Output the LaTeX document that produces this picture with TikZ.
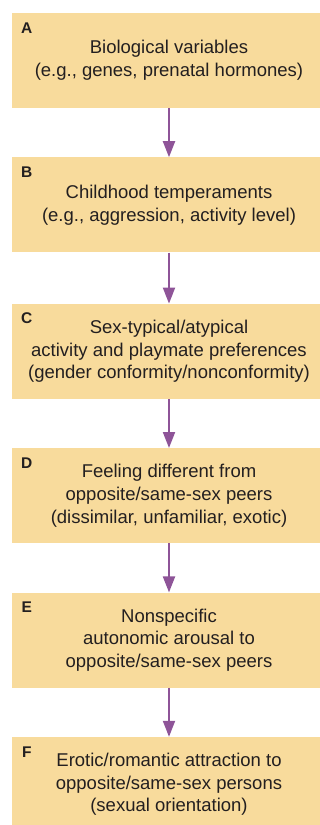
\documentclass[tikz,border=0pt]{standalone}
\usepackage{fontspec}
\setmainfont{Liberation Sans}
\usetikzlibrary{arrows.meta, positioning}
\definecolor{cpeach}{HTML}{F8DB9C}
\definecolor{cpurple}{HTML}{8E5498}
\definecolor{cink}{HTML}{231F20}
\tikzset{
  every picture/.style={font=\fontsize{18.5}{22.7}\selectfont},
  stage/.style={fill=cpeach, text=cink, minimum width=314pt, minimum height=95pt, align=center, inner sep=0pt},
  tag/.style={text=cink, inner sep=0pt, font=\fontsize{15.5}{18}\selectfont\bfseries},
  arrow/.style={-{Triangle[length=16pt, width=12pt]}, draw=cpurple, line width=2pt},
}

\begin{document}
\begin{tikzpicture}[x=1pt, y=-1pt, node distance=49pt]
  \clip (0,0) rectangle (320,825);
  % the six stages, top to bottom
  \node[stage] (A) at (169,60.5) {Biological variables\\(e.g., genes, prenatal hormones)};
  \node[stage, below=49pt of A] (B) {Childhood temperaments\\(e.g., aggression, activity level)};
  \node[stage, below=51pt of B] (C) {Sex-typical/atypical\\activity and playmate preferences\\(gender conformity/nonconformity)};
  \node[stage, below=of C] (D) {Feeling different from\\opposite/same-sex peers\\(dissimilar, unfamiliar, exotic)};
  \node[stage, below=of D] (E) {Nonspecific\\autonomic arousal to\\opposite/same-sex peers};
  \node[stage, below=of E] (F) {Erotic/romantic attraction to\\opposite/same-sex persons\\(sexual orientation)};
  % letters in the corners
  \foreach \s in {A,B,C,D,E,F}
    \node[tag] (tag\s) at ([shift={(15,15)}]\s.north west) {\s};
  % arrows
  \draw[arrow] (A) -- (B);
  \draw[arrow] (B) -- (C);
  \draw[arrow] (C) -- (D);
  \draw[arrow] (D) -- (E);
  \draw[arrow] (E) -- (F);
\end{tikzpicture}
\end{document}
